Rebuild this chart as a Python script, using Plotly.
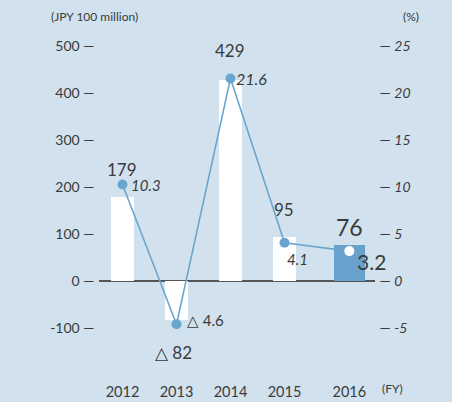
import plotly.graph_objects as go

years = ["2012", "2013", "2014", "2015", "2016"]
net_income = [179, -82, 429, 95, 76]          # JPY 100 million
ratio = [10.3, -4.6, 21.6, 4.1, 3.2]          # %
left_ticks = [-100, 0, 100, 200, 300, 400, 500]
right_ticks = [-5, 0, 5, 10, 15, 20, 25]

# layout constants (category positions on numeric axis)
xpos = [0, 1, 2, 3, 4.2]
bar_w = [0.43, 0.43, 0.43, 0.43, 0.58]
bar_colors = ["white", "white", "white", "white", "#68a1cb"]
pt_colors = ["#6aa5cf", "#6aa5cf", "#6aa5cf", "#6aa5cf", "white"]

BG = "#d1e2ee"
TXT = "#3a3a3a"
FONT = "Lato, 'Noto Sans', sans-serif"

fig = go.Figure()
fig.add_trace(go.Bar(x=xpos, y=net_income, width=bar_w,
                     marker=dict(color=bar_colors, line=dict(width=0)),
                     hoverinfo="skip", showlegend=False))
fig.add_trace(go.Scatter(x=xpos, y=ratio, yaxis="y2", mode="lines+markers",
                         line=dict(color="#6aa5cf", width=1.6),
                         marker=dict(color=pt_colors, size=10, line=dict(width=0)),
                         showlegend=False, hoverinfo="skip"))

def fmt(v):
    return f"△ {abs(v)}" if v < 0 else f"{v}"

# value labels for bars
bar_lbl = [
    dict(xs=0, ys=15, size=17),
    dict(xs=-3, ys=-20, size=17),
    dict(xs=0, ys=17, size=17),
    dict(xs=0, ys=15, size=17),
    dict(xs=0, ys=2, size=23),
]
for i, v in enumerate(net_income):
    s = bar_lbl[i]
    fig.add_annotation(x=xpos[i], y=v, xref="x", yref="y", text=fmt(v),
                       showarrow=False, xanchor="center",
                       yanchor="bottom" if v >= 0 else "top",
                       xshift=s["xs"], yshift=s["ys"],
                       font=dict(family=FONT, size=s["size"], color=TXT))

# ratio labels
r_lbl = [
    dict(xs=7, ys=-1, size=15, it=True),
    dict(xs=9, ys=4, size=15, it=False),
    dict(xs=4, ys=0, size=16, it=True),
    dict(xs=1, ys=-16, size=15, it=True),
    dict(xs=6, ys=-10, size=21, it=False),
]
for i, v in enumerate(ratio):
    s = r_lbl[i]
    t = fmt(v)
    if s["it"]:
        t = f"<i>{t}</i>"
    fig.add_annotation(x=xpos[i], y=v, xref="x", yref="y2", text=t,
                       showarrow=False, xanchor="left", yanchor="middle",
                       xshift=s["xs"], yshift=s["ys"],
                       font=dict(family=FONT, size=s["size"], color=TXT))

fig.add_annotation(x=-0.181, y=1.011, xref="paper", yref="paper",
                   text="(JPY 100 million)", showarrow=False,
                   xanchor="left", yanchor="middle",
                   font=dict(family=FONT, size=12, color=TXT))
fig.add_annotation(x=1.167, y=1.011, xref="paper", yref="paper",
                   text="(%)", showarrow=False, xanchor="right", yanchor="middle",
                   font=dict(family=FONT, size=12, color=TXT))
fig.add_annotation(x=1.018, y=-0.039, xref="paper", yref="paper",
                   text="(FY)", showarrow=False, xanchor="left", yanchor="middle",
                   font=dict(family=FONT, size=12, color=TXT))

fig.update_layout(
    width=452, height=402,
    margin=dict(l=99, r=77, t=20, b=27),
    paper_bgcolor=BG, plot_bgcolor=BG,
    bargap=0,
    font=dict(family=FONT, color=TXT),
    xaxis=dict(range=[-0.435, 4.676], tickvals=xpos, ticktext=years,
               showgrid=False, zeroline=False, showline=False, ticks="",
               ticklabelstandoff=6, automargin=False,
               tickfont=dict(size=14.5, color=TXT), fixedrange=True),
    yaxis=dict(range=[-200, 556.5], tickvals=left_ticks,
               ticktext=[f"{t} \u2014 " for t in left_ticks],
               showgrid=False, zeroline=True, zerolinecolor="#555555",
               zerolinewidth=1.5, showline=False, ticks="", automargin=False,
               tickfont=dict(size=14, color=TXT)),
    yaxis2=dict(range=[-10, 27.825], overlaying="y", side="right",
                tickvals=right_ticks, automargin=False,
                ticktext=[f" \u2014 <i>{t}</i>" for t in right_ticks],
                showgrid=False, zeroline=False, showline=False, ticks="",
                tickfont=dict(size=14, color=TXT)),
)

fig.write_html("out.html")
